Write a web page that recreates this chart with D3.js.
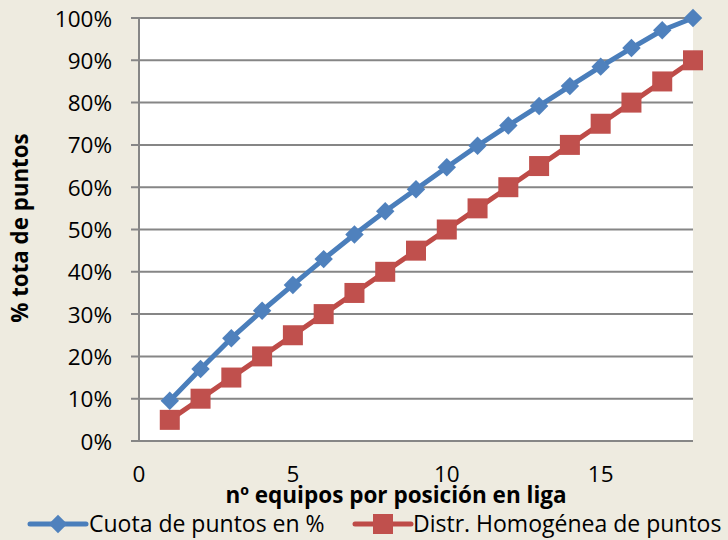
<!DOCTYPE html>
<html>
<head>
<meta charset="utf-8">
<script src="https://cdn.jsdelivr.net/npm/d3@7"></script>
<style>
  html, body { margin: 0; padding: 0; background: #EEEBE0; }
  svg { display: block; }
  text { font-family: "Open Sans", sans-serif; fill: #000; }
</style>
</head>
<body>
<svg id="chart" width="728" height="540"></svg>
<script>
// ---- data ----
const positions = [1,2,3,4,5,6,7,8,9,10,11,12,13,14,15,16,17,18];
const cuotaPuntos = [0.095,0.170,0.243,0.308,0.369,0.430,0.488,0.543,0.595,0.647,0.698,0.746,0.792,0.839,0.885,0.929,0.971,1.000];
const distrHomogenea = [0.05,0.10,0.15,0.20,0.25,0.30,0.35,0.40,0.45,0.50,0.55,0.60,0.65,0.70,0.75,0.80,0.85,0.90];
const yTicks = [0,0.1,0.2,0.3,0.4,0.5,0.6,0.7,0.8,0.9,1.0];
const xTicks = [0,5,10,15];
const seriesNames = ["Cuota de puntos en %", "Distr. Homogénea de puntos"];
const xTitle = "nº equipos por posición en liga";
const yTitle = "% tota de puntos";

// ---- layout ----
const svg = d3.select("#chart");
const pL = 139, pR = 693, pT = 18, pB = 441;
const x = d3.scaleLinear().domain([0, 18]).range([pL, pR]);
const y = d3.scaleLinear().domain([0, 1]).range([pB, pT]);

svg.append("rect").attr("x", 0).attr("y", 0).attr("width", 728).attr("height", 540).attr("fill", "#EEEBE0");
svg.append("rect").attr("x", pL).attr("y", pT).attr("width", pR - pL).attr("height", pB - pT).attr("fill", "#FFFFFF");

// gridlines
svg.append("g").selectAll("line").data(yTicks).join("line")
  .attr("x1", pL - 8).attr("x2", pR)
  .attr("y1", d => y(d)).attr("y2", d => y(d))
  .attr("stroke", "#868686").attr("stroke-width", 2);

// y axis line
svg.append("line").attr("x1", pL).attr("x2", pL).attr("y1", pT).attr("y2", pB)
  .attr("stroke", "#868686").attr("stroke-width", 2);

// y tick labels
svg.append("g").selectAll("text").data(yTicks).join("text")
  .attr("x", 112).attr("y", d => y(d))
  .attr("text-anchor", "end").attr("dominant-baseline", "central")
  .style("font-size", "22.5px")
  .text(d => d3.format(".0%")(d));

// x tick labels
svg.append("g").selectAll("text").data(xTicks).join("text")
  .attr("x", d => x(d)).attr("y", 482)
  .attr("text-anchor", "middle")
  .style("font-size", "22.5px")
  .text(d => d);

// titles
svg.append("text").attr("x", 396).attr("y", 503).attr("text-anchor", "middle")
  .style("font-size", "22.5px").style("font-weight", "bold").text(xTitle);
svg.append("text").attr("transform", "translate(28,228) rotate(-90)").attr("text-anchor", "middle")
  .style("font-size", "22.3px").style("font-weight", "bold").text(yTitle);

const line = d3.line().x((d, i) => x(positions[i])).y(d => y(d));
const blue = "#4A7EBB", blueM = "#4F81BD", red = "#BE4B48", redM = "#C0504D";

// series 2 (red)
svg.append("path").datum(distrHomogenea).attr("d", line)
  .attr("fill", "none").attr("stroke", red).attr("stroke-width", 5).attr("stroke-linejoin", "round");
svg.append("g").selectAll("rect").data(distrHomogenea).join("rect")
  .attr("x", (d, i) => x(positions[i]) - 10).attr("y", d => y(d) - 10)
  .attr("width", 20).attr("height", 20).attr("fill", redM);

// series 1 (blue)
svg.append("path").datum(cuotaPuntos).attr("d", line)
  .attr("fill", "none").attr("stroke", blue).attr("stroke-width", 5).attr("stroke-linejoin", "round");
const diamond = d3.symbol().type(d3.symbolSquare).size(170);
svg.append("g").selectAll("path").data(cuotaPuntos).join("path")
  .attr("d", diamond)
  .attr("transform", (d, i) => `translate(${x(positions[i])},${y(d)}) rotate(45)`)
  .attr("fill", blueM);

// legend
const lg = svg.append("g");
lg.append("line").attr("x1", 30).attr("x2", 86).attr("y1", 524).attr("y2", 524)
  .attr("stroke", blue).attr("stroke-width", 5).attr("stroke-linecap", "round");
lg.append("path").attr("d", diamond).attr("transform", "translate(58,524) rotate(45)").attr("fill", blueM);
lg.append("text").attr("x", 89).attr("y", 532).style("font-size", "23px").text(seriesNames[0]);
lg.append("line").attr("x1", 355).attr("x2", 411).attr("y1", 524).attr("y2", 524)
  .attr("stroke", red).attr("stroke-width", 5).attr("stroke-linecap", "round");
lg.append("rect").attr("x", 373).attr("y", 514).attr("width", 20).attr("height", 20).attr("fill", redM);
lg.append("text").attr("x", 413).attr("y", 532).style("font-size", "23px").text(seriesNames[1]);
</script>
</body>
</html>
